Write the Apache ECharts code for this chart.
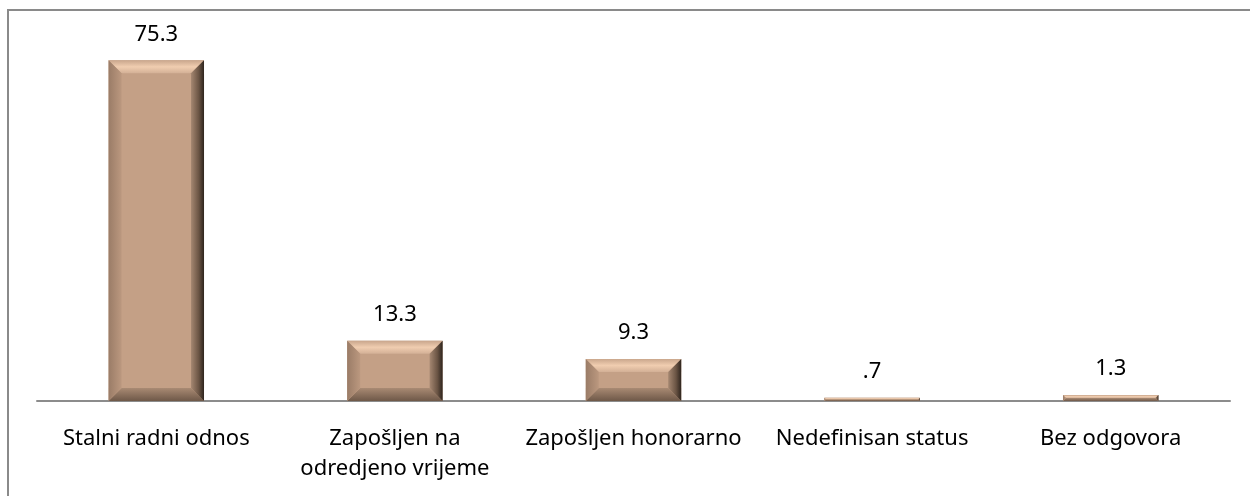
<!DOCTYPE html>
<html>
<head>
<meta charset="utf-8">
<script src="https://cdn.jsdelivr.net/npm/echarts@6/dist/echarts.min.js"></script>
<style>
  html, body { margin: 0; padding: 0; background: #fff; }
  #chart { width: 1250px; height: 496px; }
</style>
</head>
<body>
<div id="chart"></div>
<script>
const categories = ['Stalni radni odnos', 'Zapošljen na\nodredjeno vrijeme', 'Zapošljen honorarno', 'Nedefinisan status', 'Bez odgovora']
const values = [75.3, 13.3, 9.3, 0.7, 1.3]

// 0.7 -> ".7" like the original
function fmt(v) {
  return String(v).replace(/^0\./, '.')
}

function renderBevelBar(params, api) {
  const idx = api.value(0)
  const val = api.value(1)
  const top = api.coord([idx, val])
  const base = api.coord([idx, 0])
  const w = api.size([1, 0])[0] * 0.4
  const x0 = top[0] - w / 2
  const x1 = top[0] + w / 2
  const y0 = top[1]
  const y1 = base[1]
  const h = y1 - y0
  const b = Math.min(13, h / 2, w / 2)
  const children = []
  // face
  children.push({
    type: 'rect',
    shape: { x: x0, y: y0, width: w, height: h },
    style: { fill: '#c4a086' }
  })
  // top bevel
  children.push({
    type: 'polygon',
    shape: { points: [[x0, y0], [x1, y0], [x1 - b, y0 + b], [x0 + b, y0 + b]] },
    style: {
      fill: new echarts.graphic.LinearGradient(0, 0, 0, 1, [
        { offset: 0, color: '#c9a68c' },
        { offset: 0.5, color: '#f0cdb0' },
        { offset: 1, color: '#d3b096' }
      ])
    }
  })
  // bottom bevel
  children.push({
    type: 'polygon',
    shape: { points: [[x0, y1], [x1, y1], [x1 - b, y1 - b], [x0 + b, y1 - b]] },
    style: {
      fill: new echarts.graphic.LinearGradient(0, 0, 0, 1, [
        { offset: 0, color: '#a98a73' },
        { offset: 1, color: '#6e5848' }
      ])
    }
  })
  // left bevel
  children.push({
    type: 'polygon',
    shape: { points: [[x0, y0], [x0 + b, y0 + b], [x0 + b, y1 - b], [x0, y1]] },
    style: {
      fill: new echarts.graphic.LinearGradient(0, 0, 1, 0, [
        { offset: 0, color: '#9a7c67' },
        { offset: 1, color: '#bb987f' }
      ])
    }
  })
  // right bevel
  children.push({
    type: 'polygon',
    shape: { points: [[x1, y0], [x1 - b, y0 + b], [x1 - b, y1 - b], [x1, y1]] },
    style: {
      fill: new echarts.graphic.LinearGradient(0, 0, 1, 0, [
        { offset: 0, color: '#a58771' },
        { offset: 0.6, color: '#6a5444' },
        { offset: 1, color: '#2e241d' }
      ])
    }
  })
  children.push({
    type: 'text',
    style: {
      text: fmt(val),
      x: top[0],
      y: y0 - 26,
      align: 'center',
      verticalAlign: 'middle',
      fill: '#000',
      font: '22px "Noto Sans", sans-serif'
    }
  })
  return { type: 'group', children: children }
}

const chart = echarts.init(document.getElementById('chart'))
chart.setOption({
  animation: false,
  grid: { left: 37, right: 20, top: 39, bottom: 95 },
  graphic: [{
    type: 'rect',
    shape: { x: 8, y: 10, width: 1300, height: 600 },
    style: { fill: 'none', stroke: '#8a8a8a', lineWidth: 2 },
    silent: true
  }],
  xAxis: {
    type: 'category',
    data: categories,
    axisLine: { lineStyle: { color: '#8c8c8c', width: 2 } },
    axisTick: { show: false },
    axisLabel: {
      color: '#000',
      fontSize: 22,
      fontFamily: 'Noto Sans',
      lineHeight: 30,
      margin: 23,
      interval: 0
    }
  },
  yAxis: {
    type: 'value',
    min: 0,
    max: 80,
    show: false,
    splitLine: { show: false }
  },
  series: [{
    type: 'custom',
    renderItem: renderBevelBar,
    encode: { x: 0, y: 1 },
    data: values.map((v, i) => [i, v]),
    z: 1
  }]
})
</script>
</body>
</html>
